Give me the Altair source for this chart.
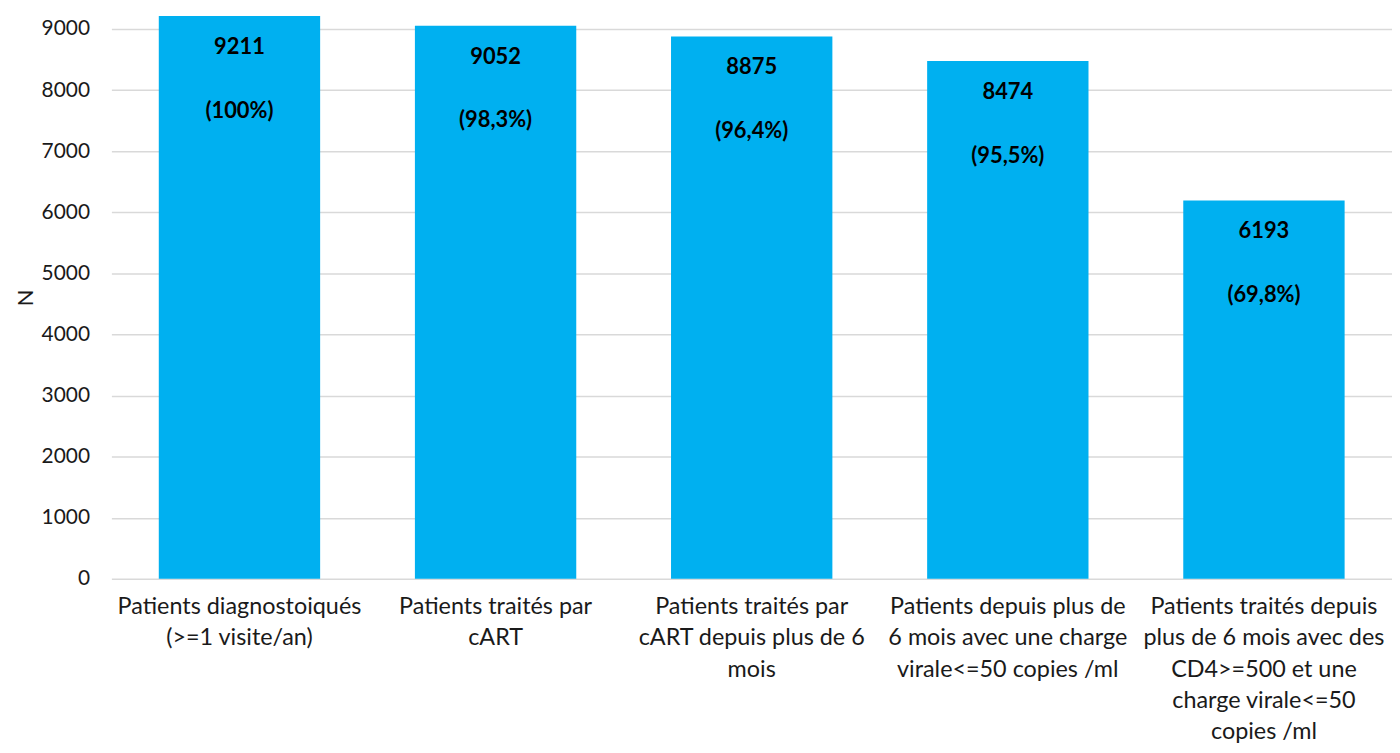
import altair as alt
import pandas as pd

categories = [
    "Patients diagnostoiqués|(>=1 visite/an)",
    "Patients traités par|cART",
    "Patients traités par|cART depuis plus de 6|mois",
    "Patients depuis plus de|6 mois avec une charge|virale<=50 copies /ml",
    "Patients traités depuis|plus de 6 mois avec des|CD4>=500 et une|charge virale<=50|copies /ml",
]
values = [9211, 9052, 8875, 8474, 6193]
percents = ["(100%)", "(98,3%)", "(96,4%)", "(95,5%)", "(69,8%)"]

df = pd.DataFrame({"cat": categories, "n": values, "pct": percents})
df["num"] = df["n"].astype(str)

FONT = "Lato"

x = alt.X(
    "cat:N",
    sort=categories,
    title=None,
    scale=alt.Scale(paddingInner=0.37, paddingOuter=0.185),
    axis=alt.Axis(
        labelExpr="split(datum.label, '|')",
        labelAngle=0,
        labelFontSize=23.5,
        labelFont=FONT,
        labelColor="#1a1a1a",
        labelLineHeight=31.5,
        labelPadding=16,
        labelBaseline="top",
        ticks=False,
        domain=False,
        labelLimit=400,
    ),
)
y = alt.Y(
    "n:Q",
    title="N",
    scale=alt.Scale(domain=[0, 9211], nice=False),
    axis=alt.Axis(
        values=list(range(0, 10000, 1000)),
        format="d",
        labelFontSize=21,
        labelFont=FONT,
        labelColor="#1a1a1a",
        labelPadding=22,
        ticks=False,
        domain=False,
        gridColor="#d9d9d9",
        gridWidth=1.5,
        titleFont=FONT,
        titleFontSize=22,
        titleFontWeight="normal",
        titleColor="#1a1a1a",
        titlePadding=4,
    ),
)

base = alt.Chart(df)
bars = base.mark_bar(color="#00B0F0").encode(x=x, y=y)
t1 = base.mark_text(
    font=FONT, fontSize=22, fontWeight="bold", color="#000000", dy=31, baseline="middle"
).encode(x=x, y=y, text="num:N")
t2 = base.mark_text(
    font=FONT, fontSize=22, fontWeight="bold", color="#000000", dy=95, baseline="middle"
).encode(x=x, y=y, text="pct:N")

chart = (
    alt.layer(bars, t1, t2)
    .properties(
        width=1288,
        height=566,
        autosize=alt.AutoSizeParams(type="none"),
        padding={"left": 104, "top": 6, "right": 0, "bottom": 167},
    )
    .configure_view(stroke=None)
)

chart.save("out.html", embed_options={"renderer": "svg", "actions": False})
